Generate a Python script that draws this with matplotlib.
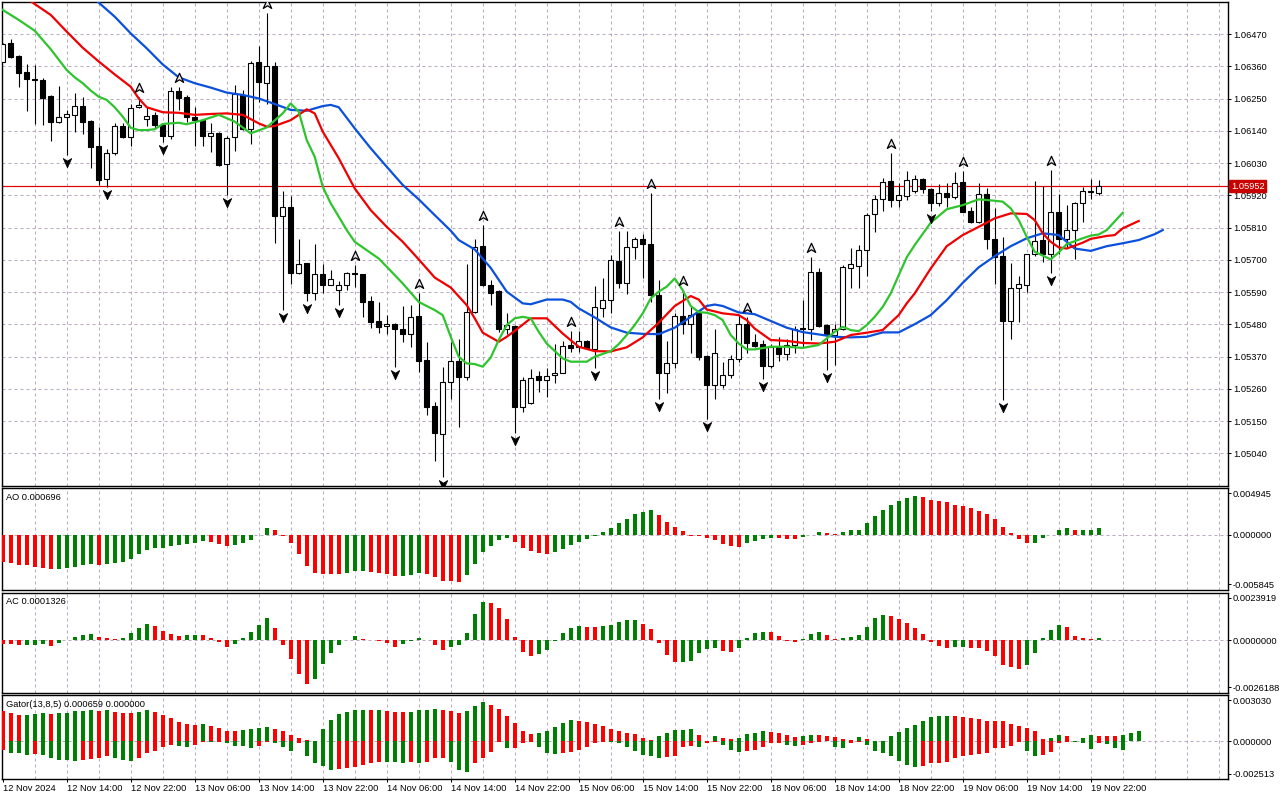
import numpy as np
import matplotlib
matplotlib.use("Agg")
import matplotlib.pyplot as plt
from matplotlib.path import Path
from matplotlib import transforms

plt.rcParams['font.family'] = ['Liberation Sans', 'DejaVu Sans']

# ---------------- data (EURUSD H1) ----------------
bar_open = [1.06377, 1.06441, 1.06396, 1.06342, 1.06317, 1.06314, 1.06259, 1.06172, 1.06187, 1.06193,
 1.06225, 1.06174, 1.06090, 1.05975, 1.06066, 1.06157, 1.06118, 1.06221, 1.06180, 1.06195,
 1.06160, 1.06123, 1.06278, 1.06257, 1.06189, 1.06177, 1.06124, 1.06134, 1.06026, 1.06118,
 1.06263, 1.06146, 1.06374, 1.06305, 1.06362, 1.05851, 1.05882, 1.05656, 1.05688, 1.05586,
 1.05651, 1.05616, 1.05597, 1.05613, 1.05654, 1.05651, 1.05560, 1.05491, 1.05474, 1.05483,
 1.05466, 1.05449, 1.05508, 1.05358, 1.05202, 1.05108, 1.05284, 1.05355, 1.05301, 1.05523,
 1.05747, 1.05616, 1.05594, 1.05466, 1.05474, 1.05199, 1.05213, 1.05304, 1.05292, 1.05306,
 1.05316, 1.05410, 1.05404, 1.05423, 1.05398, 1.05535, 1.05563, 1.05696, 1.05620, 1.05743,
 1.05770, 1.05756, 1.05582, 1.05313, 1.05349, 1.05508, 1.05483, 1.05518, 1.05372, 1.05275,
 1.05275, 1.05309, 1.05361, 1.05483, 1.05421, 1.05412, 1.05339, 1.05404, 1.05378, 1.05410,
 1.05469, 1.05466, 1.05658, 1.05478, 1.05444, 1.05466, 1.05673, 1.05680, 1.05734, 1.05856,
 1.05907, 1.05969, 1.05904, 1.05919, 1.05936, 1.05975, 1.05942, 1.05893, 1.05927, 1.05914,
 1.05965, 1.05867, 1.05830, 1.05924, 1.05770, 1.05713, 1.05492, 1.05606, 1.05616, 1.05719,
 1.05768, 1.05720, 1.05862, 1.05771, 1.05802, 1.05893, 1.05933, 1.05929]

bar_high = [1.06439, 1.06454, 1.06399, 1.06369, 1.06365, 1.06320, 1.06262, 1.06294, 1.06212, 1.06268,
 1.06257, 1.06176, 1.06155, 1.06079, 1.06168, 1.06166, 1.06232, 1.06257, 1.06223, 1.06206,
 1.06166, 1.06289, 1.06289, 1.06263, 1.06221, 1.06180, 1.06166, 1.06138, 1.06123, 1.06297,
 1.06280, 1.06379, 1.06430, 1.06541, 1.06374, 1.05935, 1.05918, 1.05770, 1.05690, 1.05756,
 1.05685, 1.05665, 1.05628, 1.05660, 1.05682, 1.05653, 1.05578, 1.05555, 1.05512, 1.05486,
 1.05543, 1.05546, 1.05586, 1.05419, 1.05216, 1.05336, 1.05421, 1.05432, 1.05685, 1.05773,
 1.05821, 1.05631, 1.05597, 1.05518, 1.05478, 1.05301, 1.05328, 1.05321, 1.05333, 1.05412,
 1.05424, 1.05457, 1.05457, 1.05427, 1.05612, 1.05639, 1.05717, 1.05799, 1.05799, 1.05777,
 1.05787, 1.05927, 1.05631, 1.05423, 1.05518, 1.05597, 1.05543, 1.05523, 1.05375, 1.05466,
 1.05353, 1.05375, 1.05512, 1.05506, 1.05449, 1.05427, 1.05415, 1.05438, 1.05429, 1.05474,
 1.05563, 1.05711, 1.05671, 1.05483, 1.05483, 1.05682, 1.05742, 1.05751, 1.05861, 1.05921,
 1.05978, 1.06066, 1.05964, 1.06003, 1.05990, 1.05978, 1.05944, 1.05959, 1.05964, 1.06001,
 1.06005, 1.05882, 1.05964, 1.05944, 1.05879, 1.05777, 1.05688, 1.05645, 1.05722, 1.05969,
 1.05952, 1.06007, 1.05924, 1.05887, 1.05899, 1.05950, 1.05976, 1.05973]

bar_low = [1.06374, 1.06390, 1.06291, 1.06209, 1.06164, 1.06160, 1.06107, 1.06168, 1.06058, 1.06138,
 1.06130, 1.06015, 1.05956, 1.05948, 1.06058, 1.06115, 1.06090, 1.06217, 1.06157, 1.06149,
 1.06104, 1.06111, 1.06212, 1.06172, 1.06090, 1.06090, 1.06069, 1.06022, 1.05921, 1.06073,
 1.06143, 1.06096, 1.06240, 1.06232, 1.05759, 1.05529, 1.05618, 1.05652, 1.05560, 1.05565,
 1.05586, 1.05613, 1.05546, 1.05597, 1.05609, 1.05506, 1.05469, 1.05452, 1.05446, 1.05336,
 1.05421, 1.05404, 1.05319, 1.05171, 1.05015, 1.04958, 1.05227, 1.05131, 1.05292, 1.05518,
 1.05611, 1.05546, 1.05455, 1.05449, 1.05110, 1.05182, 1.05210, 1.05250, 1.05233, 1.05279,
 1.05315, 1.05387, 1.05387, 1.05396, 1.05330, 1.05504, 1.05520, 1.05603, 1.05584, 1.05705,
 1.05637, 1.05557, 1.05227, 1.05247, 1.05330, 1.05449, 1.05383, 1.05358, 1.05159, 1.05225,
 1.05262, 1.05296, 1.05353, 1.05383, 1.05404, 1.05293, 1.05330, 1.05355, 1.05358, 1.05381,
 1.05404, 1.05427, 1.05472, 1.05324, 1.05341, 1.05461, 1.05603, 1.05603, 1.05645, 1.05796,
 1.05868, 1.05882, 1.05882, 1.05904, 1.05929, 1.05927, 1.05868, 1.05885, 1.05882, 1.05908,
 1.05862, 1.05825, 1.05827, 1.05739, 1.05618, 1.05222, 1.05429, 1.05489, 1.05591, 1.05713,
 1.05694, 1.05654, 1.05722, 1.05745, 1.05705, 1.05830, 1.05908, 1.05921]

bar_close = [1.06436, 1.06394, 1.06339, 1.06316, 1.06313, 1.06254, 1.06172, 1.06187, 1.06197, 1.06225,
 1.06172, 1.06086, 1.05973, 1.06064, 1.06157, 1.06121, 1.06217, 1.06228, 1.06191, 1.06160,
 1.06124, 1.06276, 1.06254, 1.06187, 1.06177, 1.06124, 1.06132, 1.06024, 1.06115, 1.06266,
 1.06146, 1.06371, 1.06308, 1.06362, 1.05850, 1.05882, 1.05656, 1.05685, 1.05586, 1.05651,
 1.05616, 1.05634, 1.05614, 1.05654, 1.05651, 1.05557, 1.05489, 1.05472, 1.05481, 1.05464,
 1.05449, 1.05506, 1.05356, 1.05199, 1.05110, 1.05284, 1.05355, 1.05301, 1.05523, 1.05745,
 1.05614, 1.05588, 1.05463, 1.05478, 1.05199, 1.05292, 1.05298, 1.05290, 1.05304, 1.05315,
 1.05407, 1.05400, 1.05423, 1.05400, 1.05538, 1.05563, 1.05700, 1.05620, 1.05743, 1.05770,
 1.05756, 1.05582, 1.05313, 1.05347, 1.05508, 1.05483, 1.05512, 1.05370, 1.05273, 1.05381,
 1.05309, 1.05361, 1.05483, 1.05417, 1.05407, 1.05339, 1.05404, 1.05378, 1.05410, 1.05466,
 1.05464, 1.05658, 1.05474, 1.05444, 1.05466, 1.05677, 1.05685, 1.05734, 1.05853, 1.05908,
 1.05967, 1.05904, 1.05921, 1.05973, 1.05975, 1.05941, 1.05893, 1.05927, 1.05914, 1.05964,
 1.05865, 1.05830, 1.05924, 1.05770, 1.05711, 1.05492, 1.05606, 1.05618, 1.05719, 1.05764,
 1.05720, 1.05862, 1.05771, 1.05802, 1.05895, 1.05935, 1.05935, 1.05952]

last_price = 1.05952

# Alligator lines (bar index, value) - jaw shifted 8, teeth 5, lips 3
jaw_bars = [11, 12, 14, 16, 18, 20, 22, 24, 26, 28, 30, 32, 34, 36, 38, 40, 41, 42, 44, 46,
 48, 50, 52, 54, 56, 57, 59, 61, 63, 65, 66, 68, 70, 71, 72, 74, 76, 78, 80, 82,
 84, 86, 88, 89, 90, 92, 94, 96, 98, 100, 102, 104, 106, 108, 110, 112, 114, 116, 118, 120,
 122, 124, 126, 128, 130, 132, 134, 136, 138, 140, 142, 144, 145]
jaw_vals = [1.06604, 1.06578, 1.06530, 1.06473, 1.06422, 1.06367, 1.06323, 1.06303, 1.06288, 1.06271,
 1.06263, 1.06251, 1.06232, 1.06212, 1.06209, 1.06225, 1.06229, 1.06221, 1.06149, 1.06081,
 1.06018, 1.05956, 1.05907, 1.05853, 1.05800, 1.05768, 1.05736, 1.05673, 1.05592, 1.05552,
 1.05549, 1.05565, 1.05565, 1.05557, 1.05535, 1.05504, 1.05470, 1.05452, 1.05448, 1.05447,
 1.05469, 1.05506, 1.05543, 1.05548, 1.05543, 1.05521, 1.05515, 1.05492, 1.05469, 1.05454,
 1.05446, 1.05438, 1.05436, 1.05438, 1.05453, 1.05453, 1.05481, 1.05512, 1.05563, 1.05622,
 1.05675, 1.05713, 1.05747, 1.05774, 1.05791, 1.05785, 1.05739, 1.05731, 1.05747, 1.05757,
 1.05768, 1.05788, 1.05802]

teeth_bars = [3, 4, 6, 8, 10, 12, 14, 16, 17, 18, 20, 22, 24, 26, 28, 30, 32, 33, 34, 36,
 37, 38, 39, 40, 42, 44, 46, 48, 50, 52, 54, 56, 58, 59, 60, 62, 63, 64, 66, 68,
 70, 72, 74, 76, 78, 80, 82, 84, 86, 87, 88, 90, 92, 93, 94, 96, 98, 100, 102, 104,
 106, 108, 110, 112, 113, 114, 116, 118, 120, 122, 124, 126, 128, 129, 130, 131, 132, 133, 135, 136,
 138, 139, 140, 142]
teeth_vals = [1.06593, 1.06573, 1.06536, 1.06479, 1.06424, 1.06377, 1.06333, 1.06291, 1.06251, 1.06221,
 1.06204, 1.06202, 1.06195, 1.06198, 1.06200, 1.06195, 1.06166, 1.06155, 1.06157, 1.06177,
 1.06195, 1.06214, 1.06200, 1.06138, 1.06047, 1.05944, 1.05870, 1.05813, 1.05762, 1.05702,
 1.05640, 1.05606, 1.05546, 1.05501, 1.05452, 1.05421, 1.05438, 1.05458, 1.05501, 1.05501,
 1.05449, 1.05404, 1.05389, 1.05388, 1.05402, 1.05436, 1.05486, 1.05543, 1.05577, 1.05565,
 1.05531, 1.05518, 1.05512, 1.05495, 1.05466, 1.05427, 1.05424, 1.05417, 1.05415, 1.05421,
 1.05444, 1.05452, 1.05461, 1.05512, 1.05552, 1.05586, 1.05671, 1.05747, 1.05785, 1.05813,
 1.05842, 1.05859, 1.05857, 1.05836, 1.05791, 1.05762, 1.05743, 1.05739, 1.05759, 1.05772,
 1.05782, 1.05785, 1.05808, 1.05833]

lips_bars = [0, 2, 4, 6, 8, 9, 10, 11, 12, 13, 14, 15, 16, 17, 18, 19, 20, 22, 23, 25,
 27, 29, 31, 33, 35, 36, 37, 38, 39, 40, 41, 42, 43, 44, 45, 47, 48, 50, 52, 54,
 55, 56, 57, 58, 59, 60, 61, 62, 63, 64, 65, 66, 67, 68, 70, 71, 73, 74, 76, 77,
 78, 79, 80, 81, 82, 83, 84, 85, 86, 87, 88, 89, 90, 91, 92, 93, 94, 96, 98, 100,
 102, 104, 105, 106, 107, 108, 109, 110, 111, 112, 113, 114, 116, 118, 120, 122, 124, 125, 126, 127,
 128, 129, 131, 132, 133, 135, 136, 137, 138, 140]
lips_vals = [1.06553, 1.06519, 1.06482, 1.06419, 1.06348, 1.06323, 1.06303, 1.06278, 1.06257, 1.06246,
 1.06221, 1.06189, 1.06151, 1.06143, 1.06143, 1.06146, 1.06164, 1.06168, 1.06163, 1.06177,
 1.06195, 1.06172, 1.06132, 1.06152, 1.06200, 1.06234, 1.06206, 1.06109, 1.06052, 1.05950,
 1.05893, 1.05848, 1.05802, 1.05762, 1.05743, 1.05705, 1.05677, 1.05620, 1.05557, 1.05529,
 1.05512, 1.05438, 1.05370, 1.05347, 1.05345, 1.05336, 1.05367, 1.05427, 1.05478, 1.05501,
 1.05506, 1.05501, 1.05455, 1.05415, 1.05364, 1.05353, 1.05353, 1.05370, 1.05389, 1.05413,
 1.05444, 1.05478, 1.05518, 1.05569, 1.05592, 1.05609, 1.05637, 1.05597, 1.05543, 1.05522,
 1.05520, 1.05512, 1.05495, 1.05444, 1.05415, 1.05395, 1.05395, 1.05404, 1.05404, 1.05400,
 1.05410, 1.05455, 1.05472, 1.05461, 1.05457, 1.05478, 1.05506, 1.05540, 1.05586, 1.05648,
 1.05709, 1.05751, 1.05827, 1.05873, 1.05887, 1.05907, 1.05902, 1.05899, 1.05876, 1.05836,
 1.05779, 1.05728, 1.05702, 1.05726, 1.05754, 1.05774, 1.05783, 1.05787, 1.05802, 1.05861]

fractal_up_bars = [17, 22, 33, 44, 52, 60, 71, 77, 81, 85, 93, 101, 111, 120, 131]
fractal_down_bars = [8, 13, 20, 28, 35, 38, 42, 49, 55, 64, 74, 82, 88, 95, 103, 116, 125, 131]

ao_values = [-0.00293, -0.00304, -0.00321, -0.00325, -0.00346, -0.00353, -0.00364, -0.00360, -0.00357, -0.00339,
 -0.00325, -0.00314, -0.00318, -0.00311, -0.00300, -0.00289, -0.00258, -0.00205, -0.00162, -0.00145,
 -0.00141, -0.00124, -0.00113, -0.00099, -0.00092, -0.00067, -0.00078, -0.00099, -0.00124, -0.00113,
 -0.00092, -0.00056, -0.00007, 0.00067, 0.00056, -0.00018, -0.00088, -0.00208, -0.00335, -0.00409,
 -0.00413, -0.00420, -0.00421, -0.00409, -0.00388, -0.00381, -0.00399, -0.00402, -0.00413, -0.00441,
 -0.00438, -0.00424, -0.00410, -0.00417, -0.00448, -0.00494, -0.00495, -0.00498, -0.00431, -0.00311,
 -0.00184, -0.00124, -0.00060, -0.00035, -0.00078, -0.00145, -0.00173, -0.00198, -0.00208, -0.00184,
 -0.00152, -0.00113, -0.00078, -0.00046, -0.00018, 0.00025, 0.00067, 0.00120, 0.00173, 0.00226,
 0.00247, 0.00268, 0.00215, 0.00141, 0.00078, 0.00035, -0.00011, -0.00018, -0.00039, -0.00060,
 -0.00102, -0.00124, -0.00134, -0.00088, -0.00067, -0.00046, -0.00035, -0.00037, -0.00046, -0.00048,
 -0.00025, -0.00004, 0.00025, 0.00022, 0.00011, 0.00025, 0.00046, 0.00056, 0.00120, 0.00205,
 0.00268, 0.00321, 0.00360, 0.00395, 0.00409, 0.00406, 0.00374, 0.00360, 0.00346, 0.00321,
 0.00311, 0.00289, 0.00258, 0.00226, 0.00173, 0.00078, 0.00014, -0.00046, -0.00092, -0.00088,
 -0.00035, -0.00004, 0.00046, 0.00067, 0.00046, 0.00049, 0.00056, 0.000696]

ac_values = [-0.00018, -0.00020, -0.00025, -0.00023, -0.00022, -0.00017, -0.00028, -0.00013, 0.00003, 0.00015,
 0.00025, 0.00030, 0.00015, 0.00010, 0.00007, 0.00010, 0.00037, 0.00060, 0.00080, 0.00070,
 0.00045, 0.00030, 0.00020, 0.00025, 0.00027, 0.00025, 0.00010, -0.00007, -0.00033, -0.00018,
 0.00010, 0.00042, 0.00077, 0.00110, 0.00060, -0.00023, -0.00094, -0.00169, -0.00219, -0.00194,
 -0.00119, -0.00063, -0.00023, 0.00002, 0.00020, 0.00007, 0.00003, -0.00002, -0.00013, -0.00033,
 -0.00017, -0.00002, 0.00010, 0.00003, -0.00023, -0.00050, -0.00033, -0.00023, 0.00035, 0.00130,
 0.00195, 0.00190, 0.00165, 0.00105, 0.00015, -0.00058, -0.00080, -0.00068, -0.00050, -0.00002,
 0.00037, 0.00060, 0.00070, 0.00069, 0.00067, 0.00070, 0.00077, 0.00090, 0.00100, 0.00101,
 0.00080, 0.00055, -0.00013, -0.00073, -0.00110, -0.00108, -0.00104, -0.00063, -0.00043, -0.00038,
 -0.00053, -0.00058, -0.00038, 0.00010, 0.00035, 0.00043, 0.00040, 0.00022, -0.00002, -0.00008,
 0.00005, 0.00030, 0.00043, 0.00025, 0.00008, 0.00010, 0.00015, 0.00025, 0.00065, 0.00110,
 0.00125, 0.00124, 0.00105, 0.00085, 0.00060, 0.00030, -0.00008, -0.00028, -0.00038, -0.00033,
 -0.00032, -0.00038, -0.00040, -0.00053, -0.00078, -0.00124, -0.00134, -0.00144, -0.00124, -0.00063,
 0.00010, 0.00050, 0.00075, 0.00065, 0.00020, 0.00010, 0.000095, 0.0001326]

gator_upper = [0.00198, 0.00187, 0.00174, 0.00176, 0.00180, 0.00183, 0.00180, 0.00183, 0.00187, 0.00198,
 0.00200, 0.00207, 0.00200, 0.00207, 0.00194, 0.00189, 0.00187, 0.00194, 0.00207, 0.00194,
 0.00174, 0.00154, 0.00128, 0.00114, 0.00108, 0.00114, 0.00101, 0.00088, 0.00068, 0.00066,
 0.00075, 0.00081, 0.00088, 0.00095, 0.00081, 0.00068, 0.00042, 0.00022, 0.00009, 0.00004,
 0.00081, 0.00141, 0.00180, 0.00194, 0.00207, 0.00209, 0.00207, 0.00209, 0.00200, 0.00195,
 0.00193, 0.00196, 0.00207, 0.00209, 0.00213, 0.00207, 0.00200, 0.00187, 0.00200, 0.00233,
 0.00260, 0.00240, 0.00213, 0.00167, 0.00121, 0.00068, 0.00048, 0.00055, 0.00068, 0.00095,
 0.00121, 0.00141, 0.00134, 0.00128, 0.00114, 0.00101, 0.00081, 0.00068, 0.00055, 0.00048,
 0.00022, 0.00009, 0.00035, 0.00055, 0.00075, 0.00077, 0.00081, 0.00042, 0.00002, 0.00035,
 0.00022, 0.00015, 0.00018, 0.00048, 0.00055, 0.00068, 0.00062, 0.00055, 0.00042, 0.00029,
 0.00035, 0.00042, 0.00040, 0.00035, 0.00029, 0.00015, 0.00007, 0.00029, 0.00015, 0.00003,
 0.00001, 0.00035, 0.00062, 0.00088, 0.00108, 0.00134, 0.00161, 0.00165, 0.00167, 0.00166,
 0.00161, 0.00154, 0.00147, 0.00136, 0.00134, 0.00132, 0.00114, 0.00101, 0.00088, 0.00068,
 0.00015, 0.00022, 0.00042, 0.00035, 0.00004, 0.00022, 0.00042, 0.00035, 0.00034, 0.00033,
 0.00042, 0.00055, 0.000659]

gator_lower = [-0.00059, -0.00077, -0.00081, -0.00088, -0.00084, -0.00088, -0.00108, -0.00121, -0.00122, -0.00128,
 -0.00121, -0.00119, -0.00114, -0.00095, -0.00108, -0.00121, -0.00128, -0.00108, -0.00075, -0.00062,
 -0.00035, -0.00022, -0.00029, -0.00035, -0.00022, -0.00004, -0.00007, -0.00002, -0.00015, -0.00031,
 -0.00033, -0.00048, -0.00031, -0.00004, -0.00009, -0.00035, -0.00062, -0.00009, -0.00099, -0.00147,
 -0.00161, -0.00187, -0.00186, -0.00174, -0.00167, -0.00154, -0.00141, -0.00134, -0.00135, -0.00140,
 -0.00141, -0.00140, -0.00147, -0.00134, -0.00114, -0.00108, -0.00134, -0.00187, -0.00200, -0.00147,
 -0.00114, -0.00068, -0.00004, -0.00048, -0.00042, -0.00015, -0.00004, -0.00035, -0.00081, -0.00084,
 -0.00075, -0.00068, -0.00055, -0.00035, -0.00015, -0.00002, -0.00004, -0.00015, -0.00035, -0.00062,
 -0.00088, -0.00095, -0.00108, -0.00101, -0.00095, -0.00035, -0.00029, -0.00035, -0.00009, -0.00002,
 -0.00022, -0.00055, -0.00070, -0.00062, -0.00061, -0.00035, -0.00015, -0.00009, -0.00022, -0.00029,
 -0.00022, -0.00009, -0.00002, -0.00001, -0.00035, -0.00042, -0.00009, -0.00002, -0.00022, -0.00062,
 -0.00081, -0.00095, -0.00128, -0.00154, -0.00167, -0.00161, -0.00147, -0.00141, -0.00134, -0.00114,
 -0.00095, -0.00088, -0.00086, -0.00081, -0.00048, -0.00042, -0.00029, -0.00002, -0.00062, -0.00095,
 -0.00088, -0.00068, -0.00015, -0.00007, -0.00008, -0.00010, -0.00053, -0.00009, -0.00020, -0.00047,
 -0.00055]

price_ticks = [1.06470, 1.06360, 1.06250, 1.06140, 1.06030, 1.05920, 1.05810,
               1.05700, 1.05590, 1.05480, 1.05370, 1.05260, 1.05150, 1.05040]
price_range = (1.04929, 1.06580)

ao_range = (-0.005845, 0.004945)
ac_range = (-0.0026188, 0.0023919)
gator_range = (-0.002513, 0.003030)
ao_scale_labels = ['0.004945', '0.000000', '-0.005845']
ac_scale_labels = ['0.0023919', '0.0000000', '-0.0026188']
gator_scale_labels = ['0.003030', '0.000000', '-0.002513']
ao_title = 'AO 0.000696'
ac_title = 'AC 0.0001326'
gator_title = 'Gator(13,8,5) 0.000659 0.000000'

time_labels = ['12 Nov 2024', '12 Nov 14:00', '12 Nov 22:00', '13 Nov 06:00', '13 Nov 14:00',
               '13 Nov 22:00', '14 Nov 06:00', '14 Nov 14:00', '14 Nov 22:00', '15 Nov 06:00',
               '15 Nov 14:00', '15 Nov 22:00', '18 Nov 06:00', '18 Nov 14:00', '18 Nov 22:00',
               '19 Nov 06:00', '19 Nov 14:00', '19 Nov 22:00']
time_label_bars = [0, 8, 16, 24, 32, 40, 48, 56, 64, 72, 80, 88, 96, 104, 112, 120, 128, 136]

# ---------------- styling ----------------
W, H = 1280, 800
PX = 0.72  # one pixel in points at dpi 100
GRID = '#b9a9c2'
GREEN = '#008000'
RED = '#ff0000'
FS = 6.7
XLIM = (-0.09, 153.16)

fig = plt.figure(figsize=(W / 100, H / 100), dpi=100)
fig.patch.set_facecolor('white')


def panel(top, bottom):
    ax = fig.add_axes([2 / W, 1 - bottom / H, 1226 / W, (bottom - top) / H])
    ax.set_xlim(*XLIM)
    for s in ax.spines.values():
        s.set_linewidth(1.0 * PX * 1.4)
        s.set_color('black')
    ax.tick_params(axis='x', bottom=False, labelbottom=False)
    ax.yaxis.tick_right()
    ax.tick_params(axis='y', direction='out', length=3 * PX, width=PX, pad=2 * PX,
                   labelsize=FS, left=False, right=True, colors='black')
    for b in range(4, 153, 4):
        ax.axvline(b, color=GRID, lw=PX, ls=(0, (3, 3)), zorder=0.5)
    return ax, bottom - top


ax_main, hm = panel(2, 486)
ax_ao, hao = panel(488.3, 589.7)
ax_ac, hac = panel(592.7, 692.7)
ax_gt, hgt = panel(695.3, 779.3)

# ---------------- main chart ----------------
o = np.array(bar_open); c = np.array(bar_close)
hi = np.array(bar_high); lo = np.array(bar_low)
idx = np.arange(len(o))
ax_main.set_ylim(*price_range)
ax_main.set_yticks(price_ticks)
ax_main.set_yticklabels([f'{p:.5f}' for p in price_ticks])
for p in price_ticks:
    ax_main.axhline(p, color=GRID, lw=PX, ls=(0, (3, 3)), zorder=0.5)

ax_main.axhline(last_price, color='#e00000', lw=PX * 1.2, zorder=1)

ax_main.vlines(idx, lo, hi, color='black', lw=PX * 1.1, zorder=3)
up = c >= o
ax_main.bar(idx, np.abs(c - o), bottom=np.minimum(o, c), width=0.56,
            color=np.where(up, 'white', 'black'), edgecolor='black', linewidth=PX * 1.1, zorder=4)

ax_main.plot(jaw_bars, jaw_vals, color='#0a50dc', lw=1.6, zorder=5)
ax_main.plot(teeth_bars, teeth_vals, color='#f00000', lw=1.6, zorder=5)
ax_main.plot(lips_bars, lips_vals, color='#2ec42e', lw=1.6, zorder=5)

up_marker = Path([(0, 1), (0.8, -0.75), (0, -0.25), (-0.8, -0.75), (0, 1)],
                 [Path.MOVETO, Path.LINETO, Path.LINETO, Path.LINETO, Path.CLOSEPOLY])
down_marker = Path([(0, -1), (0.8, 0.75), (0, 0.25), (-0.8, 0.75), (0, -1)],
                   [Path.MOVETO, Path.LINETO, Path.LINETO, Path.LINETO, Path.CLOSEPOLY])
tr_up = transforms.offset_copy(ax_main.transData, fig=fig, x=0, y=9, units='dots')
tr_dn = transforms.offset_copy(ax_main.transData, fig=fig, x=0, y=-7, units='dots')
ax_main.plot(fractal_up_bars, hi[fractal_up_bars], ls='none', marker=up_marker, markersize=7.5,
             mfc='#e8e8f0', mec='black', mew=0.9, transform=tr_up, zorder=6)
ax_main.plot(fractal_down_bars, lo[fractal_down_bars], ls='none', marker=down_marker, markersize=7.5,
             mfc='black', mec='black', mew=0.6, transform=tr_dn, zorder=6)

ax_main.annotate(f'{last_price:.5f}', xy=(1, last_price), xycoords=('axes fraction', 'data'),
                 xytext=(3 * PX, 0), textcoords='offset points', ha='left', va='center',
                 fontsize=FS, color='white', zorder=20, annotation_clip=False,
                 bbox=dict(boxstyle='square,pad=0.2', fc='#c80000', ec='#c80000'))


# ---------------- sub panels ----------------
def updown_colors(vals, absolute=False):
    v = np.abs(vals) if absolute else np.asarray(vals)
    cols = [RED]
    for i in range(1, len(v)):
        cols.append(GREEN if v[i] > v[i - 1] else RED)
    return cols


def setup_scale(ax, rng, labels, hpx, title):
    ax.set_ylim(*rng)
    per_px = (rng[1] - rng[0]) / hpx
    ax.set_yticks([rng[1] - 5 * per_px, 0.0, rng[0] + 5.5 * per_px])
    ax.set_yticklabels(labels)
    ax.axhline(0, color=GRID, lw=PX, ls=(0, (3, 3)), zorder=0.6)
    ax.annotate(title, xy=(0, 1), xycoords='axes fraction', xytext=(4 * PX, -9 * PX),
                textcoords='offset points', ha='left', va='center', fontsize=FS, zorder=10)


ao = np.array(ao_values)
ax_ao.bar(np.arange(len(ao)), ao, width=0.5, color=updown_colors(ao), linewidth=0, zorder=3)
setup_scale(ax_ao, ao_range, ao_scale_labels, hao, ao_title)

ac = np.array(ac_values)
ax_ac.bar(np.arange(len(ac)), ac, width=0.5, color=updown_colors(ac), linewidth=0, zorder=3)
setup_scale(ax_ac, ac_range, ac_scale_labels, hac, ac_title)

gu = np.array(gator_upper); gl = np.array(gator_lower)
ax_gt.bar(np.arange(len(gu)), gu, width=0.5, color=updown_colors(gu), linewidth=0, zorder=3)
ax_gt.bar(np.arange(len(gl)), gl, width=0.5, color=updown_colors(gl, absolute=True), linewidth=0, zorder=3)
setup_scale(ax_gt, gator_range, gator_scale_labels, hgt, gator_title)

ax_gt.tick_params(axis='x', bottom=True, labelbottom=True, direction='out', length=3 * PX,
                  width=PX, pad=1.5 * PX, labelsize=FS)
ax_gt.set_xticks(time_label_bars)
ax_gt.set_xticklabels(time_labels)
for t in ax_gt.get_xticklabels():
    t.set_ha('left')

fig.savefig('out.png', dpi=100, facecolor='white')
